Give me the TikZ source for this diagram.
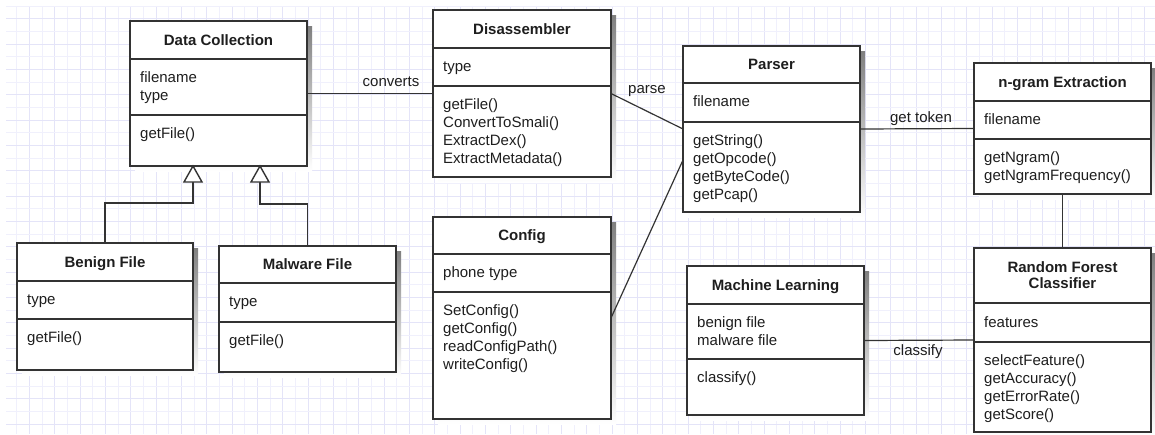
\documentclass[tikz,border=0pt]{standalone}
\usepackage{fontspec}
\setmainfont{Liberation Sans}
\usetikzlibrary{calc}

\definecolor{gridminor}{HTML}{F0F0FC}
\definecolor{gridmajor}{HTML}{E4E4F8}
\definecolor{edge}{HTML}{333333}
\definecolor{shade}{HTML}{B4B4B4}
\definecolor{ink}{HTML}{1E1E1E}

\tikzset{
  minorgrid/.style={draw=gridminor, line width=0.9pt},
  majorgrid/.style={draw=gridmajor, line width=1pt},
  classbox/.style={draw=edge, line width=1.4pt, fill=white, inner sep=0pt, outer sep=0pt, anchor=north west},
  divider/.style={draw=edge, line width=1.4pt},
  link/.style={draw=edge, line width=1.2pt},
  headtri/.style={draw=edge, line width=1.4pt, fill=white, line join=miter},
  titletext/.style={font=\fontsize{15}{17}\selectfont\bfseries, text=ink, anchor=base, inner sep=0pt},
  membertext/.style={font=\fontsize{15}{18}\selectfont, text=ink, anchor=base west, inner sep=0pt},
  labeltext/.style={font=\fontsize{15}{18}\selectfont, text=ink, anchor=base, inner sep=0pt},
}

% class box: name, left, top, right, bottom, header divider, attribute divider
\newcommand\umlbox[7]{%
  \fill[shade] (#2+5,#3+5) rectangle (#4+5,#5+5);
  \node[classbox, minimum width={(#4-#2)*1pt}, minimum height={(#5-#3)*1pt}] (#1) at (#2,#3) {};
  \draw[divider] (#2,#6) -- (#4,#6);
  \draw[divider] (#2,#7) -- (#4,#7);
}
% one line of bold class title: node name, x, baseline, text
\newcommand\umltitle[4]{\node[titletext] (#1) at (#2,#3) {#4};}
% list of members: name prefix, x, first baseline, items
\newcommand\umlmembers[4]{%
  \foreach \txt [count=\i] in {#4} {\node[membertext] (#1-\i) at (#2,{#3+18*(\i-1)}) {\txt};}%
}

\begin{document}
\begin{tikzpicture}[x=1pt, y=-1pt]
  \useasboundingbox (0,0) rectangle (1155,434);
  \fill[white] (0,0) rectangle (1155,434);

  % background grid
  \begin{scope}
    \clip (6,6) rectangle (1155,434);
    \foreach \k in {0,...,91}{%
      \pgfmathsetmacro\gx{4+12.667*\k}%
      \pgfmathtruncatemacro\odd{mod(\k,2)}%
      \ifnum\odd=1 \draw[minorgrid] (\gx,0) -- (\gx,434);
      \else \draw[majorgrid] (\gx,0) -- (\gx,434); \fi
    }
    \foreach \k in {0,...,34}{%
      \pgfmathsetmacro\gy{6+12.667*\k}%
      \pgfmathtruncatemacro\odd{mod(\k,2)}%
      \ifnum\odd=1 \draw[majorgrid] (0,\gy) -- (1155,\gy);
      \else \draw[minorgrid] (0,\gy) -- (1155,\gy); \fi
    }
  \end{scope}

  % classes
  \umlbox{dc}{130}{21}{307}{166}{59}{115}
  \umltitle{dc-title}{218.5}{45}{Data Collection}
  \umlmembers{dc-a}{140}{82.5}{filename,type}
  \umlmembers{dc-m}{140}{138.5}{getFile()}

  \umlbox{benign}{17}{243}{193}{370}{281}{319}
  \umltitle{benign-title}{105}{267}{Benign File}
  \umlmembers{benign-a}{27}{304.5}{type}
  \umlmembers{benign-m}{27}{342.5}{getFile()}

  \umlbox{malware}{219}{246}{396}{372}{283}{322}
  \umltitle{malware-title}{307.5}{269.5}{Malware File}
  \umlmembers{malware-a}{229}{306.5}{type}
  \umlmembers{malware-m}{229}{345.5}{getFile()}

  \umlbox{dis}{433}{10}{611}{177}{48}{86}
  \umltitle{dis-title}{522}{34}{Disassembler}
  \umlmembers{dis-a}{443}{71.5}{type}
  \umlmembers{dis-m}{443}{109.5}{getFile(),ConvertToSmali(),ExtractDex(),ExtractMetadata()}

  \umlbox{config}{433}{217}{611}{419}{254}{292}
  \umltitle{config-title}{522}{240.5}{Config}
  \umlmembers{config-a}{443}{277.5}{phone type}
  \umlmembers{config-m}{443}{315.5}{SetConfig(),getConfig(),readConfigPath(),writeConfig()}

  \umlbox{parser}{683}{46}{860}{212}{83}{122}
  \umltitle{parser-title}{771.5}{69.5}{Parser}
  \umlmembers{parser-a}{693}{106.5}{filename}
  \umlmembers{parser-m}{693}{145.5}{getString(),getOpcode(),getByteCode(),getPcap()}

  \umlbox{ml}{687}{266}{864}{415}{304}{359}
  \umltitle{ml-title}{775.5}{290}{Machine Learning}
  \umlmembers{ml-a}{697}{327.5}{benign file,malware file}
  \umlmembers{ml-m}{697}{382.5}{classify()}

  \umlbox{ngram}{974}{63}{1151}{194}{101}{139}
  \umltitle{ngram-title}{1062.5}{87}{n-gram Extraction}
  \umlmembers{ngram-a}{984}{124.5}{filename}
  \umlmembers{ngram-m}{984}{162.5}{getNgram(),getNgramFrequency()}

  \umlbox{rf}{974}{248}{1151}{432}{303}{342}
  \umltitle{rf-title1}{1062.5}{272}{Random Forest}
  \umltitle{rf-title2}{1062.5}{288.5}{Classifier}
  \umlmembers{rf-a}{984}{327.5}{features}
  \umlmembers{rf-m}{984}{365.5}{selectFeature(),getAccuracy(),getErrorRate(),getScore()}

  % associations
  \draw[link] (dc.east) -- (dis.west);
  \node[labeltext] (lbl-converts) at (391,86) {converts};
  \draw[link] (dis.east) -- (parser.west);
  \node[labeltext] (lbl-parse) at (647,93) {parse};
  \draw[link] (config.east) -- ([yshift=-31pt]parser.west);
  \draw[link] (parser.east) -- (ngram.west);
  \node[labeltext] (lbl-token) at (921,122) {get token};
  \draw[link] (ngram.south) -- (rf.north);
  \draw[link] (ml.east) -- (rf.west);
  \node[labeltext] (lbl-classify) at (918,355) {classify};

  % generalisation arrows
  \coordinate (tipB) at ([xshift=63pt]dc.south west);
  \coordinate (tipM) at ([xshift=130pt]dc.south west);
  \draw[link] ([yshift=-16pt]tipB) -- ++(0,21) -| (benign.north);
  \draw[link] ([yshift=-16pt]tipM) -- ++(0,22) -| (malware.north);
  \draw[headtri] (tipB) -- ++(-9,16) -- ++(18,0) -- cycle;
  \draw[headtri] (tipM) -- ++(-9,16) -- ++(18,0) -- cycle;
\end{tikzpicture}
\end{document}
